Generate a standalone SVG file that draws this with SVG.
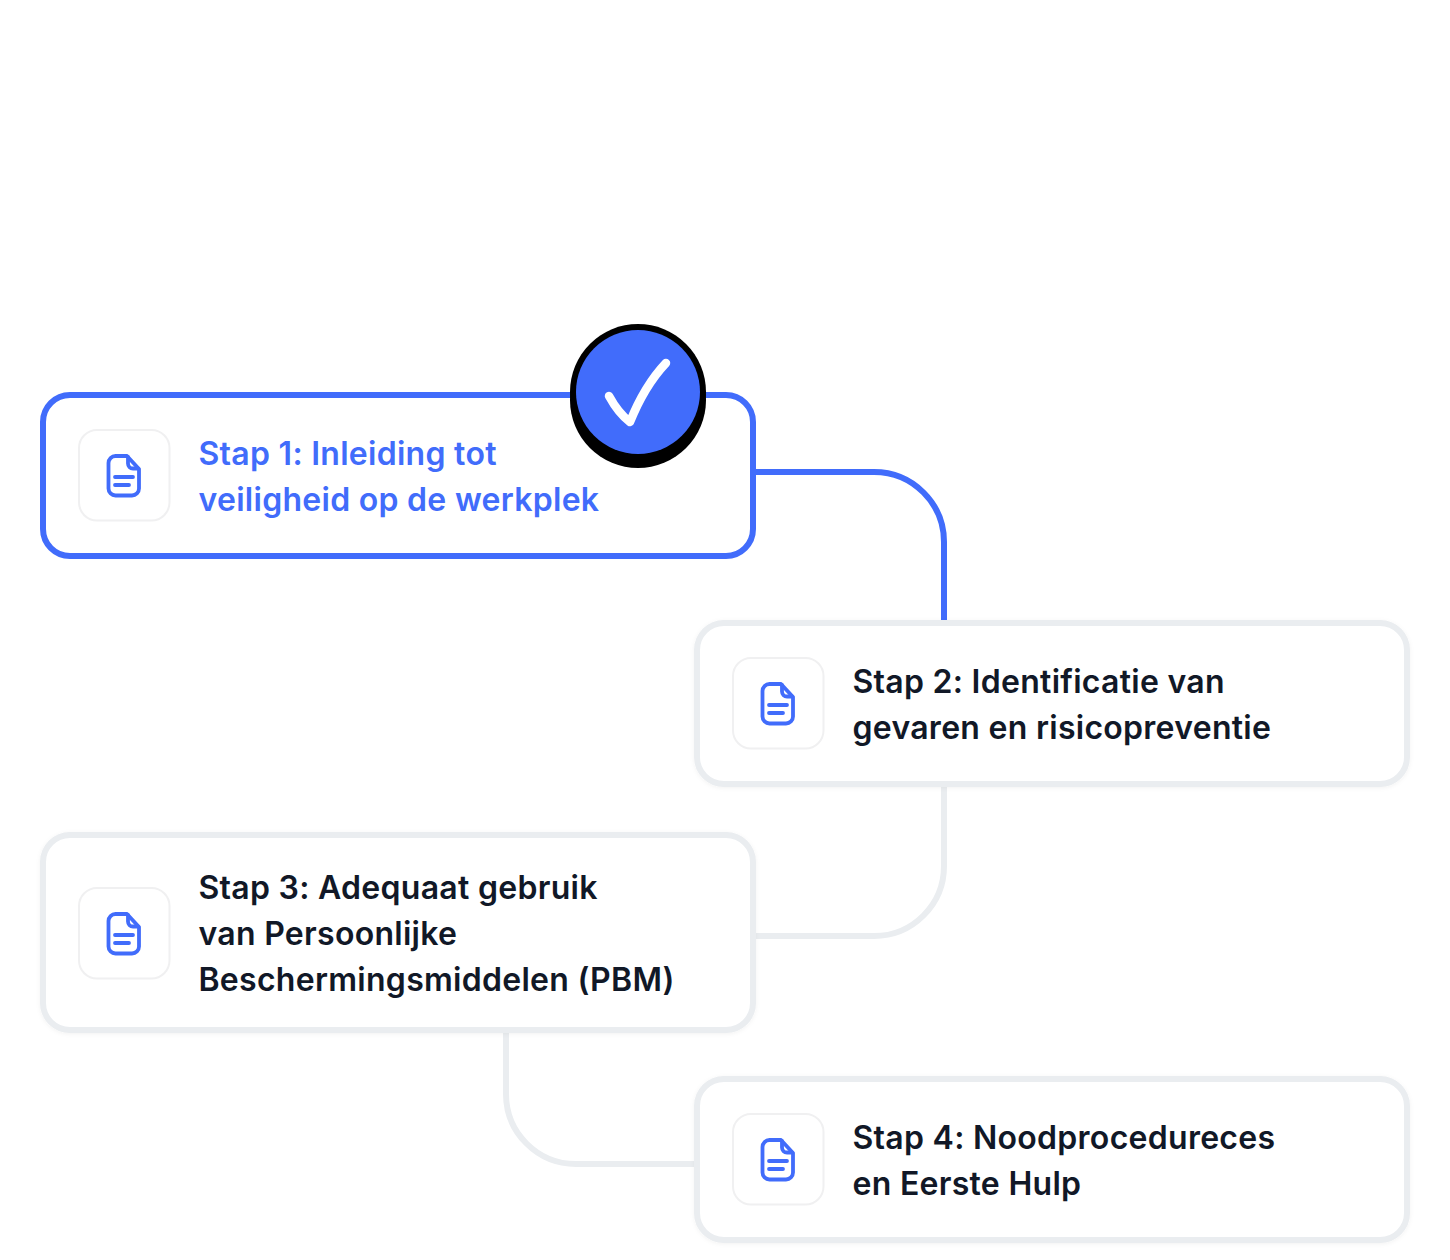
<svg xmlns="http://www.w3.org/2000/svg" width="1450" height="1260" viewBox="0 0 1450 1260">
<defs>
<style>
.card{fill:#fff;stroke:#eaedf0;stroke-width:6}
.soft{filter:url(#soft)}
.active{stroke:#416cfb}
.box{fill:#fff;stroke:#f0f0f1;stroke-width:2}
.ico{fill:none;stroke:#416cfb;stroke-width:3.800;stroke-linecap:round;stroke-linejoin:round}
.t{font-family:Inter,"Liberation Sans",sans-serif;font-weight:600;font-size:32px;letter-spacing:.28px;fill:#111827}
.blue{fill:#416cfb}
.c{fill:none;stroke:#eaedf0;stroke-width:6}
.cb{stroke:#416cfb}
</style>
<filter id="soft" x="-3%" y="-5%" width="106%" height="110%"><feDropShadow dx="0" dy="1" stdDeviation="2" flood-color="#111827" flood-opacity=".05"/></filter>
<g id="doc">
<rect class="box" x="1" y="1" width="90.500" height="90.500" rx="18"/>
<path class="ico" d="M37.500 27h11.500L61 40v19.500a7 7 0 0 1-7 7H37.500A7 7 0 0 1 30.500 59.500V34A7 7 0 0 1 37.500 27Z"/>
<path class="ico" d="M50 28v6.500a5 5 0 0 0 5 5H60M37 48h18M37 56h14"/>
</g>
</defs>
<rect width="1450" height="1260" fill="#fff"/>
<g id="connectors">
<path class="c cb" d="M756 472H874A70 70 0 0 1 944 542V622"/>
<path class="c" d="M944 786V866A70 70 0 0 1 874 936H756"/>
<path class="c" d="M506 1033V1094A70 70 0 0 0 576 1164H697"/>
</g>
<g id="node1">
<rect class="card active" x="43" y="395" width="710" height="161" rx="27"/>
<use href="#doc" x="78" y="429"/>
<text class="t blue" x="198.500" y="465">Stap 1: Inleiding tot</text>
<text class="t blue" x="198.500" y="511">veiligheid op de werkplek</text>
</g>
<g id="badge">
<circle cx="638" cy="400" r="68" fill="#000"/>
<circle cx="638" cy="392" r="68" fill="#000"/>
<circle cx="638" cy="392" r="62" fill="#416cfb"/>
<path d="M609 396C615 407 622 416 630 422C638 402 650 380 666 363" fill="none" stroke="#fff" stroke-width="8.500" stroke-linecap="round" stroke-linejoin="round"/>
</g>
<g id="node2">
<rect class="card soft" x="697" y="623" width="710" height="161" rx="27"/>
<use href="#doc" x="732" y="657"/>
<text class="t" x="852.500" y="693">Stap 2: Identificatie van</text>
<text class="t" x="852.500" y="739">gevaren en risicopreventie</text>
</g>
<g id="node3">
<rect class="card soft" x="43" y="835" width="710" height="195" rx="27"/>
<use href="#doc" x="78" y="887"/>
<text class="t" x="198.500" y="899">Stap 3: Adequaat gebruik</text>
<text class="t" x="198.500" y="945">van Persoonlijke</text>
<text class="t" x="198.500" y="991">Beschermingsmiddelen (PBM)</text>
</g>
<g id="node4">
<rect class="card soft" x="697" y="1079" width="710" height="161" rx="27"/>
<use href="#doc" x="732" y="1113"/>
<text class="t" x="852.500" y="1149">Stap 4: Noodprocedureces</text>
<text class="t" x="852.500" y="1195">en Eerste Hulp</text>
</g>
</svg>
